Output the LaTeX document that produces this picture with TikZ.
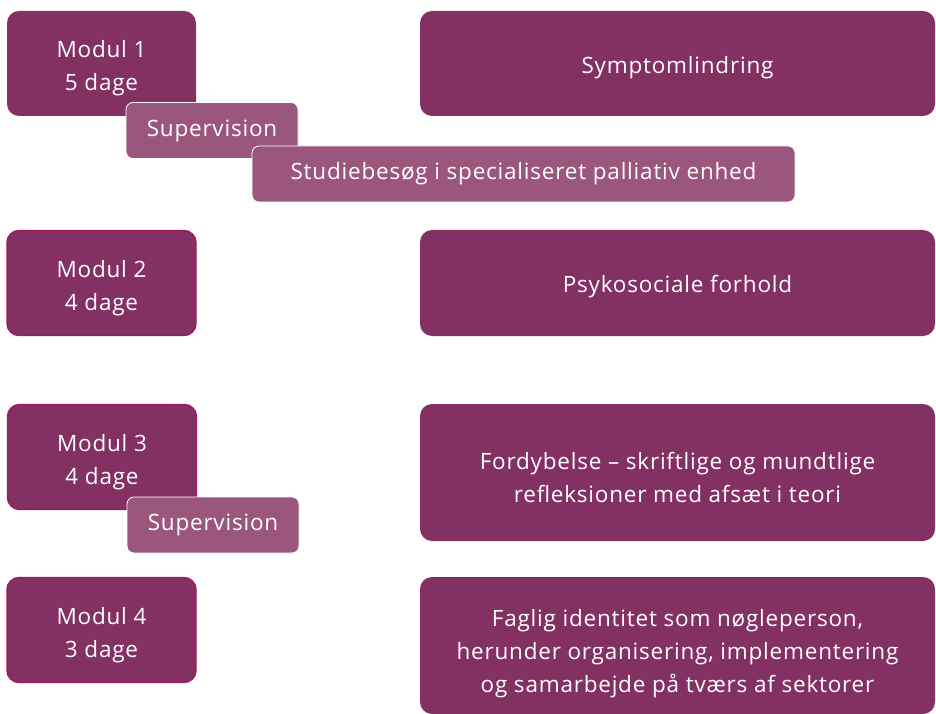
\documentclass[tikz,border=0pt]{standalone}
\usepackage{fontspec}
\setmainfont{Open Sans}[LetterSpace=3.5]
\definecolor{dkp}{HTML}{833163}
\definecolor{ltp}{HTML}{9A567C}
\definecolor{brd}{HTML}{A0185C}
\begin{document}
\begin{tikzpicture}[x=1pt,y=1pt,
  base/.style={align=center,text=white,font=\fontsize{22.5}{33}\selectfont,inner sep=0pt,anchor=center},
  txt/.style={base,yshift=-5pt},
  modbox/.style={fill=dkp,rounded corners=12pt,minimum width=189pt,minimum height=105pt,inner sep=0pt},
  modbrd/.style={modbox,draw=brd,line width=1.4pt},
  bigbox/.style={fill=dkp,rounded corners=12pt,minimum width=515pt,inner sep=0pt},
  subbox/.style={base,fill=ltp,draw=white,line width=0.8pt,rounded corners=7pt,minimum height=56pt}]
\useasboundingbox (0,0) rectangle (936,713);
\clip (0,0) rectangle (936,713);
\node[modbox] (m1) at (101.5,649.5) {};
\node[txt] (m1t) at (m1.center) {Modul 1\\5 dage};
\node[subbox,minimum width=172pt] (s1) at (212,582.5) {Supervision};
\node[subbox,minimum width=543pt] (st) at (523.5,539) {Studiebesøg i specialiseret palliativ enhed};
\node[modbrd] (m2) at (101.5,430) {};
\node[txt] (m2t) at (m2.center) {Modul 2\\4 dage};
\node[modbrd] (m3) at (102,256) {};
\node[txt] (m3t) at (m3.center) {Modul 3\\4 dage};
\node[subbox,minimum width=172pt] (s2) at (213,188) {Supervision};
\node[modbrd] (m4) at (101.5,83) {};
\node[txt] (m4t) at (m4.center) {Modul 4\\3 dage};
\node[bigbox,minimum height=105pt] (b1) at (677.5,649.5) {};
\node[txt,yshift=1pt] (b1t) at (b1.center) {Symptomlindring};
\node[bigbox,minimum height=106pt] (b2) at (677.5,430) {};
\node[txt,yshift=1pt] (b2t) at (b2.center) {Psykosociale forhold};
\node[bigbox,minimum height=137pt] (b3) at (677.5,240.5) {};
\node[txt] (b3t) at (b3.center) {Fordybelse – skriftlige og mundtlige\\refleksioner med afsæt i teori};
\node[bigbox,minimum height=137pt] (b4) at (677.5,67.5) {};
\node[txt,yshift=-3pt] (b4t) at (b4.center) {Faglig identitet som nøgleperson,\\herunder organisering, implementering\\og samarbejde på tværs af sektorer};
\end{tikzpicture}
\end{document}
